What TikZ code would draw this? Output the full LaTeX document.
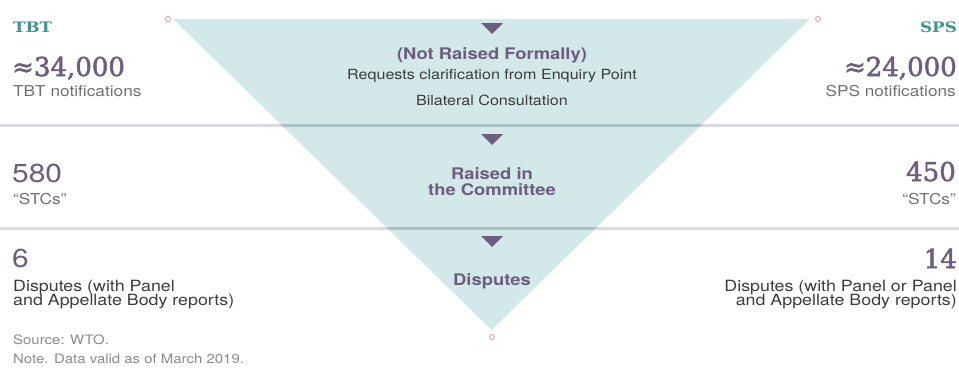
\documentclass[tikz,border=0pt]{standalone}
\usepackage{fontspec}
\newfontfamily\hsans[FakeStretch=1.15]{TeX Gyre Heros}
\newfontfamily\slab[FakeStretch=1.15]{DejaVu Serif}
\newfontfamily\slabnum[FakeBold=2]{DejaVu Serif}
\definecolor{trifill}{HTML}{D3E8E9}
\definecolor{plum}{HTML}{6D5D7E}
\definecolor{tealc}{HTML}{3A978A}
\definecolor{darktext}{HTML}{3C3C3C}
\definecolor{midgray}{HTML}{707070}
\definecolor{lightgray}{HTML}{8A8A8A}
\definecolor{ruleout}{HTML}{DCD9E1}
\definecolor{rulein}{HTML}{A9C2C5}
\definecolor{dotc}{HTML}{D9969E}
\tikzset{
  lw/.style={anchor=base west, inner sep=0pt},
  le/.style={anchor=base east, inner sep=0pt},
  lc/.style={anchor=base, inner sep=0pt},
  stage/.style={lc, text=plum, font=\hsans\bfseries\fontsize{16}{17}\selectfont},
  desc/.style={lc, text=darktext, font=\hsans\fontsize{14}{15}\selectfont},
  heading/.style={text=tealc, font=\slab\bfseries\fontsize{14.5}{15}\selectfont},
  bignum/.style={text=plum, font=\slabnum\fontsize{26}{28}\selectfont},
  sansnum/.style={text=plum, font=\hsans\fontsize{26}{28}\selectfont},
  sub/.style={text=midgray, font=\hsans\fontsize{15}{16}\selectfont},
  body/.style={text=darktext, font=\hsans\fontsize{15.5}{16}\selectfont},
  note/.style={text=lightgray, font=\hsans\fontsize{13}{14}\selectfont},
  marker/.style={fill=plum, draw=none},
  dot/.style={circle, draw=dotc, line width=0.8pt, fill=white, minimum size=5pt, inner sep=0pt},
}
\begin{document}
\begin{tikzpicture}[x=1pt, y=-1pt]
\useasboundingbox (0,0) rectangle (959,383);
% funnel
\coordinate (tl) at (173,19);
\coordinate (tr) at (810,19);
\coordinate (ap) at (491.5,330);
\fill[trifill] (tl) -- (tr) -- (ap) -- cycle;
% rules
\coordinate (r1l) at (0,125); \coordinate (r1r) at (959,125);
\coordinate (r2l) at (0,228); \coordinate (r2r) at (959,228);
\draw[ruleout, line width=3pt] (r1l) -- (r1r);
\draw[ruleout, line width=3pt] (r2l) -- (r2r);
\begin{scope}
\clip (tl) -- (tr) -- (ap) -- cycle;
\draw[rulein, line width=3pt] (r1l) -- (r1r);
\draw[rulein, line width=3pt] (r2l) -- (r2r);
\end{scope}
% markers
\fill[marker] (481,23) -- (503,23) -- (492,34) -- cycle;
\fill[marker] (481,134) -- (503,134) -- (492,145) -- cycle;
\fill[marker] (481,236) -- (503,236) -- (492,247) -- cycle;
% dots
\node[dot] (d1) at (168,19) {};
\node[dot] (d2) at (818,19) {};
\node[dot] (d3) at (492,337) {};
% centre texts
\node[stage] (s1) at (492,59) {(Not Raised Formally)};
\node[desc] (s1a) at (492,79) {Requests clarification from Enquiry Point};
\node[desc] (s1b) at (492,105) {Bilateral Consultation};
\node[stage] (s2a) at (492,179) {Raised in};
\node[stage] (s2b) at (492,195) {the Committee};
\node[stage] (s3) at (492,285) {Disputes};
% left column
\node[lw, heading] (tbt) at (13,32) {TBT};
\node[lw, bignum] (n1) at (12,76) {≈34,000};
\node[lw, sub] (n1s) at (13,96) {TBT notifications};
\node[lw, sansnum] (n2) at (12,182) {580};
\node[lw, sub] (n2s) at (13,204) {“STCs”};
\node[lw, sansnum] (n3) at (12,267) {6};
\node[lw, body] (n3a) at (13,291) {Disputes (with Panel};
\node[lw, body] (n3b) at (13,305) {and Appellate Body reports)};
\node[lw, note] (src) at (13,344) {Source: WTO.};
\node[lw, note] (nte) at (13,363) {Note. Data valid as of March 2019.};
% right column
\node[le, heading] (sps) at (957,32) {SPS};
\node[le, bignum] (m1) at (957,76) {≈24,000};
\node[le, sub] (m1s) at (956,96) {SPS notifications};
\node[le, bignum] (m2) at (956,181) {450};
\node[le, sub] (m2s) at (956,204) {“STCs”};
\node[le, bignum] (m3) at (957,268) {14};
\node[le, body] (m3a) at (957,291) {Disputes (with Panel or Panel};
\node[le, body] (m3b) at (957,305) {and Appellate Body reports)};
\end{tikzpicture}
\end{document}
